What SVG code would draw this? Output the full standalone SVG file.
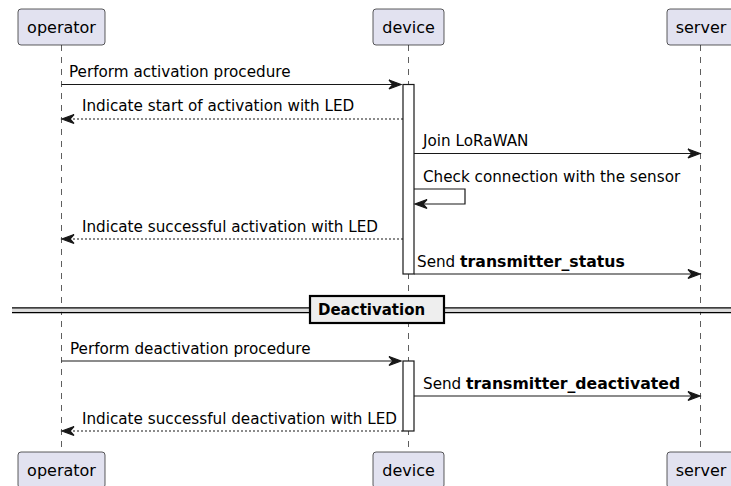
<svg xmlns="http://www.w3.org/2000/svg" width="731" height="486" viewBox="0 0 731 486">
  <style>
    .life { stroke: #181818; stroke-width: 0.7; stroke-dasharray: 6,6; fill: none; }
    .part rect { fill: #E2E2F0; stroke: #181818; stroke-width: 0.7; }
    .part text { font-family: "DejaVu Sans", sans-serif; font-size: 16px; fill: #000; text-anchor: middle; }
    .act { fill: #FFFFFF; stroke: #181818; stroke-width: 1.2; }
    .msg { stroke: #181818; stroke-width: 1.2; fill: none; }
    .ret { stroke: #181818; stroke-width: 1.2; fill: none; stroke-dasharray: 2,2; }
    .head { fill: #181818; stroke: #181818; stroke-width: 1.2; stroke-linejoin: miter; }
    .lbl { font-family: "DejaVu Sans", sans-serif; font-size: 15.2px; fill: #000; }
    .b { font-weight: bold; font-size: 15.7px; }
    .div-line { stroke: #000; stroke-width: 1.4; }
    .div-box { fill: #EEEEEE; stroke: #000; stroke-width: 2.2; }
    .div-text { font-family: "DejaVu Sans", sans-serif; font-size: 15px; font-weight: bold; fill: #000; }
  </style>
  <rect width="731" height="486" fill="#FFFFFF"/>

  <!-- lifelines -->
  <g id="lifelines">
    <line class="life" x1="61.5" y1="45" x2="61.5" y2="452"/>
    <line class="life" x1="408.5" y1="45" x2="408.5" y2="452"/>
    <line class="life" x1="700.5" y1="45" x2="700.5" y2="452"/>
  </g>

  <!-- participants -->
  <g id="operator" class="part">
    <rect x="18" y="9" width="87" height="36" rx="3"/>
    <text x="61.5" y="33">operator</text>
    <rect x="18" y="452" width="87" height="36" rx="3"/>
    <text x="61.5" y="476">operator</text>
  </g>
  <g id="device" class="part">
    <rect x="373" y="9" width="71" height="36" rx="3"/>
    <text x="408.5" y="33">device</text>
    <rect x="373" y="452" width="71" height="36" rx="3"/>
    <text x="408.5" y="476">device</text>
  </g>
  <g id="server" class="part">
    <rect x="667" y="9" width="70" height="36" rx="3"/>
    <text x="701" y="33">server</text>
    <rect x="667" y="452" width="70" height="36" rx="3"/>
    <text x="701" y="476">server</text>
  </g>

  <!-- activation bars -->
  <g id="activations">
    <rect class="act" x="403" y="84.5" width="11" height="189.5"/>
    <rect class="act" x="403" y="361" width="11" height="70"/>
  </g>

  <!-- separator -->
  <g id="separator">
    <line class="div-line" x1="12" y1="308" x2="731" y2="308"/>
    <line class="div-line" x1="12" y1="312.5" x2="731" y2="312.5"/>
    <rect x="12" y="308.7" width="719" height="3.1" fill="#DDDDDD"/>
    <rect class="div-box" x="310" y="296" width="134" height="27"/>
    <text class="div-text" x="318" y="315">Deactivation</text>
  </g>

  <!-- messages -->
  <g id="connectors">
    <!-- operator -> device -->
    <line class="msg" x1="61.5" y1="84.5" x2="400" y2="84.5"/>
    <polygon class="head" points="389,80 401,84.5 389,89 393,84.5"/>
    <text class="lbl" x="69" y="77">Perform activation procedure</text>

    <!-- device --> operator -->
    <line class="ret" x1="403" y1="119" x2="63" y2="119"/>
    <polygon class="head" points="74,114.5 62,119 74,123.5 70,119"/>
    <text class="lbl" x="82" y="111">Indicate start of activation with LED</text>

    <!-- device -> server -->
    <line class="msg" x1="414" y1="153.5" x2="699" y2="153.5"/>
    <polygon class="head" points="688,149 700,153.5 688,158 692,153.5"/>
    <text class="lbl" x="423" y="146">Join LoRaWAN</text>

    <!-- device -> device -->
    <polyline class="msg" points="414,189 465,189 465,204 416,204"/>
    <polygon class="head" points="427,199.5 415,204 427,208.5 423,204"/>
    <text class="lbl" x="423" y="182">Check connection with the sensor</text>

    <!-- device --> operator -->
    <line class="ret" x1="403" y1="239" x2="63" y2="239"/>
    <polygon class="head" points="74,234.5 62,239 74,243.5 70,239"/>
    <text class="lbl" x="82" y="232">Indicate successful activation with LED</text>

    <!-- device -> server -->
    <line class="msg" x1="414" y1="274" x2="699" y2="274"/>
    <polygon class="head" points="688,269.5 700,274 688,278.5 692,274"/>
    <text class="lbl" x="417" y="267">Send <tspan class="b">transmitter_status</tspan></text>

    <!-- operator -> device -->
    <line class="msg" x1="61.5" y1="361" x2="400" y2="361"/>
    <polygon class="head" points="389,356.5 401,361 389,365.5 393,361"/>
    <text class="lbl" x="70" y="354">Perform deactivation procedure</text>

    <!-- device -> server -->
    <line class="msg" x1="414" y1="396" x2="699" y2="396"/>
    <polygon class="head" points="688,391.5 700,396 688,400.5 692,396"/>
    <text class="lbl" x="423" y="389">Send <tspan class="b">transmitter_deactivated</tspan></text>

    <!-- device --> operator -->
    <line class="ret" x1="403" y1="431" x2="63" y2="431"/>
    <polygon class="head" points="74,426.5 62,431 74,435.5 70,431"/>
    <text class="lbl" x="82" y="424">Indicate successful deactivation with LED</text>
  </g>
</svg>
